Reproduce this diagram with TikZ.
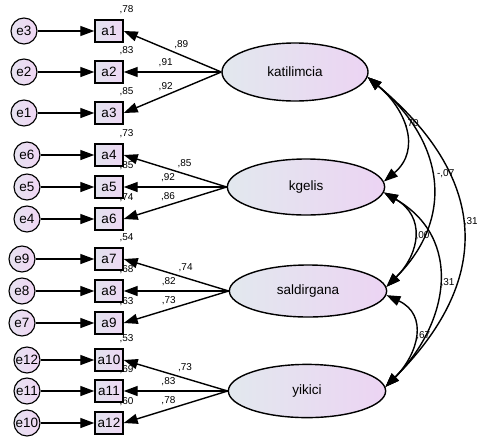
\documentclass[tikz,border=0pt]{standalone}
\usepackage{fontspec}
\setmainfont{Liberation Sans}
\usetikzlibrary{arrows.meta,shapes.geometric,positioning}
\definecolor{latleft}{RGB}{226,232,238}
\definecolor{latright}{RGB}{236,212,243}
\definecolor{obsleft}{RGB}{226,226,238}
\definecolor{obsright}{RGB}{238,216,244}
\definecolor{errleft}{RGB}{230,226,240}
\definecolor{errright}{RGB}{240,214,244}

\begin{document}
\begin{tikzpicture}[x=0.025cm, y=0.025cm,
    latent/.style={draw, ellipse, line width=1pt, left color=latleft, right color=latright, minimum width=3.93cm, minimum height=1.3cm, inner sep=0pt, font=\fontsize{9.6}{11}\selectfont},
    obs/.style={draw, rectangle, line width=1pt, left color=obsleft, right color=obsright, minimum width=0.7cm, minimum height=0.55cm, inner sep=0pt, font=\fontsize{9.6}{11}\selectfont},
    err/.style={draw, circle, line width=0.8pt, left color=errleft, right color=errright, minimum size=0.65cm, inner sep=0pt, font=\fontsize{9.6}{11}\selectfont},
    num/.style={font=\fontsize{7.1}{8}\selectfont, inner sep=1pt},
    arr/.style={-{Triangle[length=0.35cm,width=0.25cm]}, line width=1pt},
    cov/.style={{Triangle[length=0.35cm,width=0.25cm]}-{Triangle[length=0.35cm,width=0.25cm]}, line width=1pt}
]
\useasboundingbox (0,0) rectangle (477,-441);

\node[latent, minimum width=3.65cm, minimum height=1.45cm] (kat) at (295,-72) {katilimcia};
\node[latent, minimum height=1.4cm] (kgelis) at (306,-187) {kgelis};
\node[latent] (sald) at (308,-291) {saldirgana};
\node[latent, minimum height=1.33cm] (yik) at (307,-391) {yikici};

\foreach \i/\e/\ex/\y/\r in {1/3/24/31/78, 2/2/24/72/83, 3/1/24/113/85, 4/6/27/155/73, 5/5/27/187/85, 6/4/27/219/74, 7/9/22/259/54, 8/8/22/291/68, 9/7/22/323/63, 10/12/27/360/53, 11/11/27/391/69, 12/10/27/423/60}{
  \node[obs] (a\i) at (109,-\y) {a\i};
  \node[err] (e\e) at (\ex,-\y) {e\e};
  \node[num, anchor=south] (r\i) at ([xshift=2pt,yshift=2.5pt]a\i.north east) {,\r};
  \draw[arr] (e\e) -- (a\i);
}

\draw[arr] (kat.west) -- node[num, pos=0.41, above=3pt] (l1) {,89} (a1.east);
\draw[arr] (kat.west) -- node[num, pos=0.57, above=2pt] (l2) {,91} (a2.east);
\draw[arr] (kat.west) -- node[num, pos=0.57, above=2pt] (l3) {,92} (a3.east);
\draw[arr] (kgelis.west) -- node[num, pos=0.41, above=3pt] (l4) {,85} (a4.east);
\draw[arr] (kgelis.west) -- node[num, pos=0.57, above=2pt] (l5) {,92} (a5.east);
\draw[arr] (kgelis.west) -- node[num, pos=0.57, above=2pt] (l6) {,86} (a6.east);
\draw[arr] (sald.west) -- node[num, pos=0.41, above=3pt] (l7) {,74} (a7.east);
\draw[arr] (sald.west) -- node[num, pos=0.57, above=2pt] (l8) {,82} (a8.east);
\draw[arr] (sald.west) -- node[num, pos=0.57, above=2pt] (l9) {,73} (a9.east);
\draw[arr] (yik.west) -- node[num, pos=0.41, above=3pt] (l10) {,73} (a10.east);
\draw[arr] (yik.west) -- node[num, pos=0.57, above=2pt] (l11) {,83} (a11.east);
\draw[arr] (yik.west) -- node[num, pos=0.57, above=2pt] (l12) {,78} (a12.east);

\draw[cov] (kat.-4) to[out=-40, in=40, looseness=1.2] node[num, pos=0.45, right] (c1) {,70} (kgelis.4);
\draw[cov] (kat.-4) to[out=-40, in=45, looseness=1.2] node[num, pos=0.47, right=3pt] (c2) {-,07} (sald.3);
\draw[cov] (kat.-4) to[out=-40, in=45, looseness=1.28] node[num, pos=0.48, right] (c3) {,31} (yik.3);
\draw[cov] (kgelis.-4) to[out=-30, in=45, looseness=1.3] node[num, pos=0.5, right] (c4) {,00} (sald.3);
\draw[cov] (kgelis.-4) to[out=-30, in=45, looseness=1.2] node[num, pos=0.5, right] (c5) {,31} (yik.3);
\draw[cov] (sald.-3) to[out=-25, in=45, looseness=1.3] node[num, pos=0.5, right] (c6) {,67} (yik.3);
\end{tikzpicture}
\end{document}
